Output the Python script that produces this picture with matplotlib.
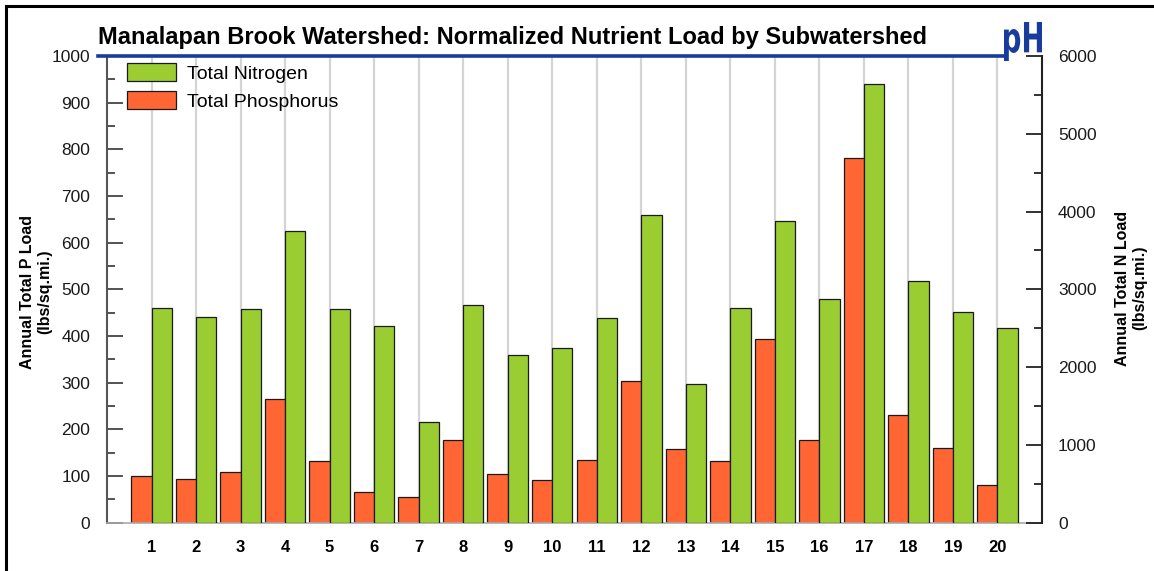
import matplotlib
matplotlib.use("Agg")
import matplotlib.pyplot as plt
import numpy as np
from matplotlib.ticker import MultipleLocator
from matplotlib.textpath import TextPath
from matplotlib.patches import PathPatch, Patch
from matplotlib.font_manager import FontProperties
from matplotlib.transforms import Affine2D
from matplotlib.lines import Line2D

plt.rcParams['font.family'] = ['Liberation Sans', 'DejaVu Sans']

subwatersheds = [str(i) for i in range(1, 21)]
phosphorus = [99, 93, 108, 264, 132, 65, 56, 177, 105, 91,
              135, 303, 157, 133, 393, 178, 782, 230, 160, 80]
nitrogen = [2756, 2650, 2745, 3745, 2742, 2528, 1300, 2794, 2152, 2246,
            2627, 3950, 1777, 2760, 3877, 2872, 5637, 3103, 2705, 2503]

title = "Manalapan Brook Watershed: Normalized Nutrient Load by Subwatershed"
left_label = "Annual Total P Load\n(lbs/sq.mi.)"
right_label = "Annual Total N Load\n(lbs/sq.mi.)"

W, H = 1154, 571
fig = plt.figure(figsize=(W / 100, H / 100), dpi=100)
fig.patch.set_facecolor('white')

def fx(px):
    return px / W

def fy(py):
    return 1 - py / H

x0, x1 = 107, 1042
ytop, ybot = 56, 522.7
ax = fig.add_axes([fx(x0), fy(ybot), fx(x1) - fx(x0), fy(ytop) - fy(ybot)])
ax2 = ax.twinx()

green = '#9ACD32'
orange = '#FF6633'
edge = '#1a1a1a'
w = 0.455
pos = np.arange(1, len(subwatersheds) + 1)

ax.set_xlim(0, 21)
ax.set_ylim(0, 1000)
ax2.set_ylim(0, 6000)

# vertical grid lines at categories
for p in pos:
    ax.axvline(p, color='#d4d4d4', lw=1.6, zorder=0)

ax.bar(pos - w, phosphorus, width=w, align='edge', color=orange,
       edgecolor=edge, linewidth=0.9, zorder=2)
ax2.bar(pos, nitrogen, width=w, align='edge', color=green,
        edgecolor=edge, linewidth=0.9, zorder=2)

# spines
for s in ['top', 'right']:
    ax.spines[s].set_visible(False)
ax.spines['left'].set_color('#555555')
ax.spines['left'].set_linewidth(1.5)
ax.spines['bottom'].set_color('#aaaaaa')
ax.spines['bottom'].set_linewidth(1.2)
for s in ['top', 'left', 'bottom']:
    ax2.spines[s].set_visible(False)
ax2.spines['right'].set_color('#222222')
ax2.spines['right'].set_linewidth(1.5)

# ticks
ax.yaxis.set_major_locator(MultipleLocator(100))
ax.yaxis.set_minor_locator(MultipleLocator(50))
ax.tick_params(axis='y', which='major', direction='in', length=11.5, width=1.3,
               color='#444444', labelsize=12.5, labelcolor='#1a1a1a', pad=12)
ax.tick_params(axis='y', which='minor', direction='in', length=5.8, width=1.3,
               color='#444444')
ax.set_xticks(pos)
ax.set_xticklabels(subwatersheds, fontweight='bold', fontsize=12)
ax.tick_params(axis='x', length=0, pad=12.5)

ax2.yaxis.set_major_locator(MultipleLocator(1000))
ax2.yaxis.set_minor_locator(MultipleLocator(500))
ax2.tick_params(axis='y', which='major', direction='in', length=11.5, width=1.3,
                color='#222222', labelsize=12.5, labelcolor='#1a1a1a', pad=11.5)
ax2.tick_params(axis='y', which='minor', direction='in', length=5.8, width=1.3,
                color='#222222')

# axis labels
fig.text(fx(36), fy(292), left_label, rotation=90, ha='center', va='center',
         fontsize=11.5, fontweight='bold', multialignment='center')
fig.text(fx(1131), fy(288), right_label, rotation=90, ha='center', va='center',
         fontsize=11.5, fontweight='bold', multialignment='center')

# title
fig.text(fx(98), fy(44), title, ha='left', va='baseline', fontsize=17,
         fontweight='bold', color='black')
blue = '#183c9c'
fig.add_artist(Line2D([fx(98), fx(1003)], [fy(56), fy(56)], color=blue, lw=2.6,
                      transform=fig.transFigure))

# pH logo
tp = TextPath((0, 0), "pH", size=1, prop=FontProperties(family='DejaVu Sans', weight='bold'))
ext = tp.get_extents()
logo_w, logo_h = 38, 39
sx = logo_w / ext.width
sy = logo_h / ext.height
tr = (Affine2D().translate(-ext.x0, -ext.y0).scale(sx / W, sy / H)
      .translate(fx(1004), fy(61)) + fig.transFigure)
fig.add_artist(PathPatch(tp, transform=tr, color=blue, lw=0))

# legend
handles = [Patch(facecolor=green, edgecolor=edge, linewidth=0.9),
           Patch(facecolor=orange, edgecolor=edge, linewidth=0.9)]
ax2.legend(handles, ['Total Nitrogen', 'Total Phosphorus'],
           loc='upper left', bbox_to_anchor=(fx(127), fy(63)),
           bbox_transform=fig.transFigure, frameon=False,
           fontsize=14, handlelength=2.5, handleheight=1.03,
           handletextpad=0.6, labelspacing=0.45, borderpad=0,
           borderaxespad=0)

# figure border (left and top)
fig.add_artist(Line2D([fx(5.5), fx(5.5)], [0, fy(5.5)], color='black', lw=2.2,
                      transform=fig.transFigure))
fig.add_artist(Line2D([fx(5.5), 1], [fy(5.5), fy(5.5)], color='black', lw=2.2,
                      transform=fig.transFigure))

fig.savefig('out.png', dpi=100)
